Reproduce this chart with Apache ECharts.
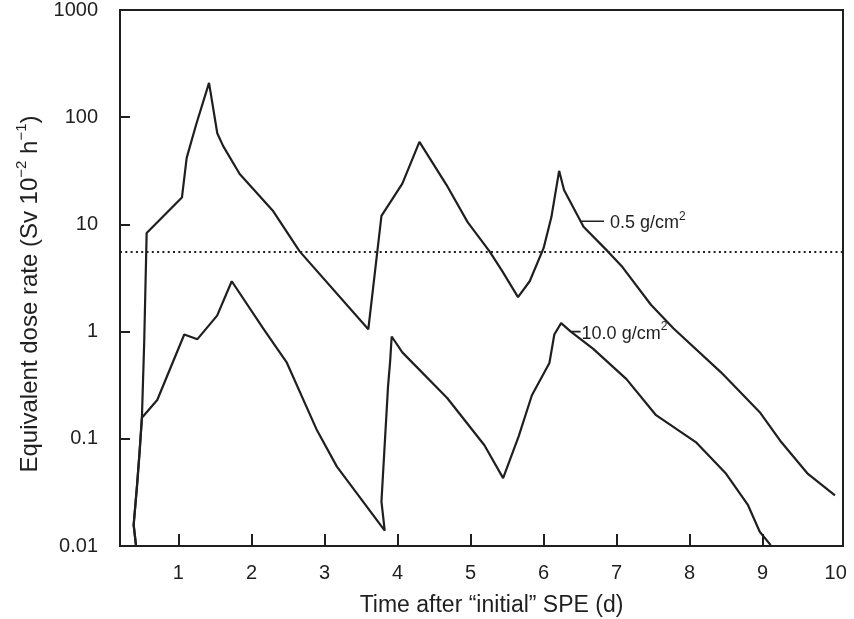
<!DOCTYPE html>
<html>
<head>
<meta charset="utf-8">
<script src="https://cdn.jsdelivr.net/npm/echarts@6/dist/echarts.min.js"></script>
<style>
  html, body { margin: 0; padding: 0; background: #ffffff; }
  #chart { width: 854px; height: 619px; }
</style>
</head>
<body>
<div id="chart"></div>
<script>
// Equivalent dose rate after the "initial" solar particle event, two shield thicknesses.

// 0.5 g/cm² shielding
const thinDays  = [0.42, 0.387, 0.435, 0.468, 0.50, 0.532, 0.565, 1.048, 1.113, 1.242,
                   1.419, 1.532, 1.613, 1.839, 2.29, 2.66, 3.60, 3.78, 4.066, 4.30,
                   4.67, 4.96, 5.26, 5.43, 5.65, 5.81, 6.0, 6.107, 6.213, 6.28,
                   6.547, 6.88, 7.08, 7.47, 7.78, 8.43, 8.96, 9.24, 9.62, 9.99];
const thinRates = [0.01, 0.0157, 0.038, 0.075, 0.157, 0.82, 8.3, 17.8, 41.7, 85,
                   209, 70.8, 53.7, 29.5, 13.5, 5.6, 1.05, 12.0, 24, 58.9,
                   23.4, 10.5, 5.6, 3.7, 2.1, 2.95, 6.0, 11.7, 31.6, 20.9,
                   9.5, 5.6, 4.0, 1.78, 1.07, 0.417, 0.177, 0.096, 0.047, 0.0297];

// 10.0 g/cm² shielding
const thickDays  = [0.42, 0.387, 0.435, 0.468, 0.50, 0.71, 1.08, 1.26, 1.53, 1.73,
                    2.16, 2.48, 2.89, 3.17, 3.825, 3.78, 3.87, 3.90, 3.92, 4.066,
                    4.68, 5.19, 5.446, 5.66, 5.84, 6.08, 6.147, 6.24, 6.373, 6.68,
                    7.135, 7.54, 8.094, 8.49, 8.80, 8.96, 9.11];
const thickRates = [0.01, 0.0157, 0.038, 0.075, 0.157, 0.23, 0.94, 0.85, 1.41, 2.95,
                    1.07, 0.52, 0.123, 0.055, 0.0139, 0.026, 0.307, 0.54, 0.90, 0.64,
                    0.24, 0.087, 0.043, 0.106, 0.255, 0.51, 0.94, 1.2, 1.0, 0.69,
                    0.36, 0.166, 0.092, 0.048, 0.024, 0.0136, 0.0102];

// dotted reference level
const referenceRate = 5.6;

// curve labels and the short leader lines that tie them to their curves
const thinLabel  = '{n|0.5 g/cm}{s|2}';
const thickLabel = '{n|10.0 g/cm}{s|2}';
const thinLeaderDays   = [6.507, 6.827];
const thinLeaderRates  = [10.7, 10.7];
const thickLeaderDays  = [6.373, 6.507];
const thickLeaderRates = [1.0, 1.0];

// axes
const xTickValues  = [1, 2, 3, 4, 5, 6, 7, 8, 9, 10];
const xTickMarks   = [1, 2, 3, 4, 5, 6, 7, 8, 9];
const yTickLabels  = ['0.01', '0.1', '1', '10', '100', '1000'];

const ink = '#1f1f1f';
const font = "'Liberation Sans', Arial, sans-serif";

const zip = (xs, ys) => xs.map((x, i) => [x, ys[i]]);

const chart = echarts.init(document.getElementById('chart'), null, { renderer: 'canvas' });

const curveStyle = { color: ink, width: 2.2 };

const annotationRich = {
  n: { fontSize: 18, lineHeight: 22, color: ink, fontFamily: font, verticalAlign: 'bottom' },
  s: { fontSize: 12, lineHeight: 12, color: ink, fontFamily: font, verticalAlign: 'top' }
};

chart.setOption({
  animation: false,
  backgroundColor: '#ffffff',
  grid: {
    left: 120, right: 11, top: 10, bottom: 73,
    containLabel: false,
    outerBoundsMode: 'none',
    show: true, borderColor: ink, borderWidth: 2, backgroundColor: 'transparent'
  },
  xAxis: {
    type: 'value',
    min: 0.2, max: 10.1,
    axisLine: { show: true, onZero: false, lineStyle: { color: ink, width: 2 } },
    axisTick: { show: true, inside: true, length: 12, customValues: xTickMarks,
                lineStyle: { color: ink, width: 2 } },
    axisLabel: { customValues: xTickValues, margin: 17, fontSize: 20, color: ink,
                 fontFamily: font },
    splitLine: { show: false },
    name: 'Time after “initial” SPE (d)',
    nameLocation: 'middle',
    nameGap: 48,
    nameTextStyle: { fontSize: 23, color: ink, fontFamily: font, padding: [0, 0, 0, 20] }
  },
  yAxis: {
    type: 'log',
    logBase: 10,
    min: 0.01, max: 1000,
    axisLine: { show: true, onZero: false, lineStyle: { color: ink, width: 2 } },
    axisTick: { show: true, inside: true, length: 10, lineStyle: { color: ink, width: 2 } },
    axisLabel: {
      margin: 22, fontSize: 20, color: ink, fontFamily: font,
      formatter: (v) => yTickLabels.find(t => Math.abs(Math.log10(+t) - Math.log10(v)) < 1e-6) || ''
    },
    splitLine: { show: false },
    minorTick: { show: false },
    name: '{n|Equivalent dose rate (Sv 10}{s|−2}{n| h}{s|−1}{n|)}',
    nameLocation: 'middle',
    nameGap: 78,
    nameRotate: 90,
    nameTextStyle: {
      color: ink, fontFamily: font,
      padding: [0, 32, 0, 0],
      rich: {
        n: { fontSize: 24, lineHeight: 28, color: ink, fontFamily: font, verticalAlign: 'bottom' },
        s: { fontSize: 15, lineHeight: 15, color: ink, fontFamily: font, verticalAlign: 'top' }
      }
    }
  },
  series: [
    {
      name: '0.5 g/cm²',
      type: 'line',
      data: zip(thinDays, thinRates),
      symbol: 'none',
      lineStyle: curveStyle,
      z: 3,
      markLine: {
        silent: true,
        symbol: 'none',
        label: { show: false },
        lineStyle: { color: ink, width: 2.2, type: [2, 3.3] },
        data: [{ yAxis: referenceRate }]
      }
    },
    {
      name: '10.0 g/cm²',
      type: 'line',
      data: zip(thickDays, thickRates),
      symbol: 'none',
      lineStyle: curveStyle,
      z: 3
    },
    {
      name: 'thin-leader',
      type: 'line',
      data: zip(thinLeaderDays, thinLeaderRates),
      symbol: 'none',
      lineStyle: { color: ink, width: 1.6 },
      endLabel: { show: true, formatter: thinLabel, distance: 6, rich: annotationRich }
    },
    {
      name: 'thick-leader',
      type: 'line',
      data: zip(thickLeaderDays, thickLeaderRates),
      symbol: 'none',
      lineStyle: { color: ink, width: 1.6 },
      endLabel: { show: true, formatter: thickLabel, distance: 1, rich: annotationRich }
    }
  ]
});
</script>
</body>
</html>
